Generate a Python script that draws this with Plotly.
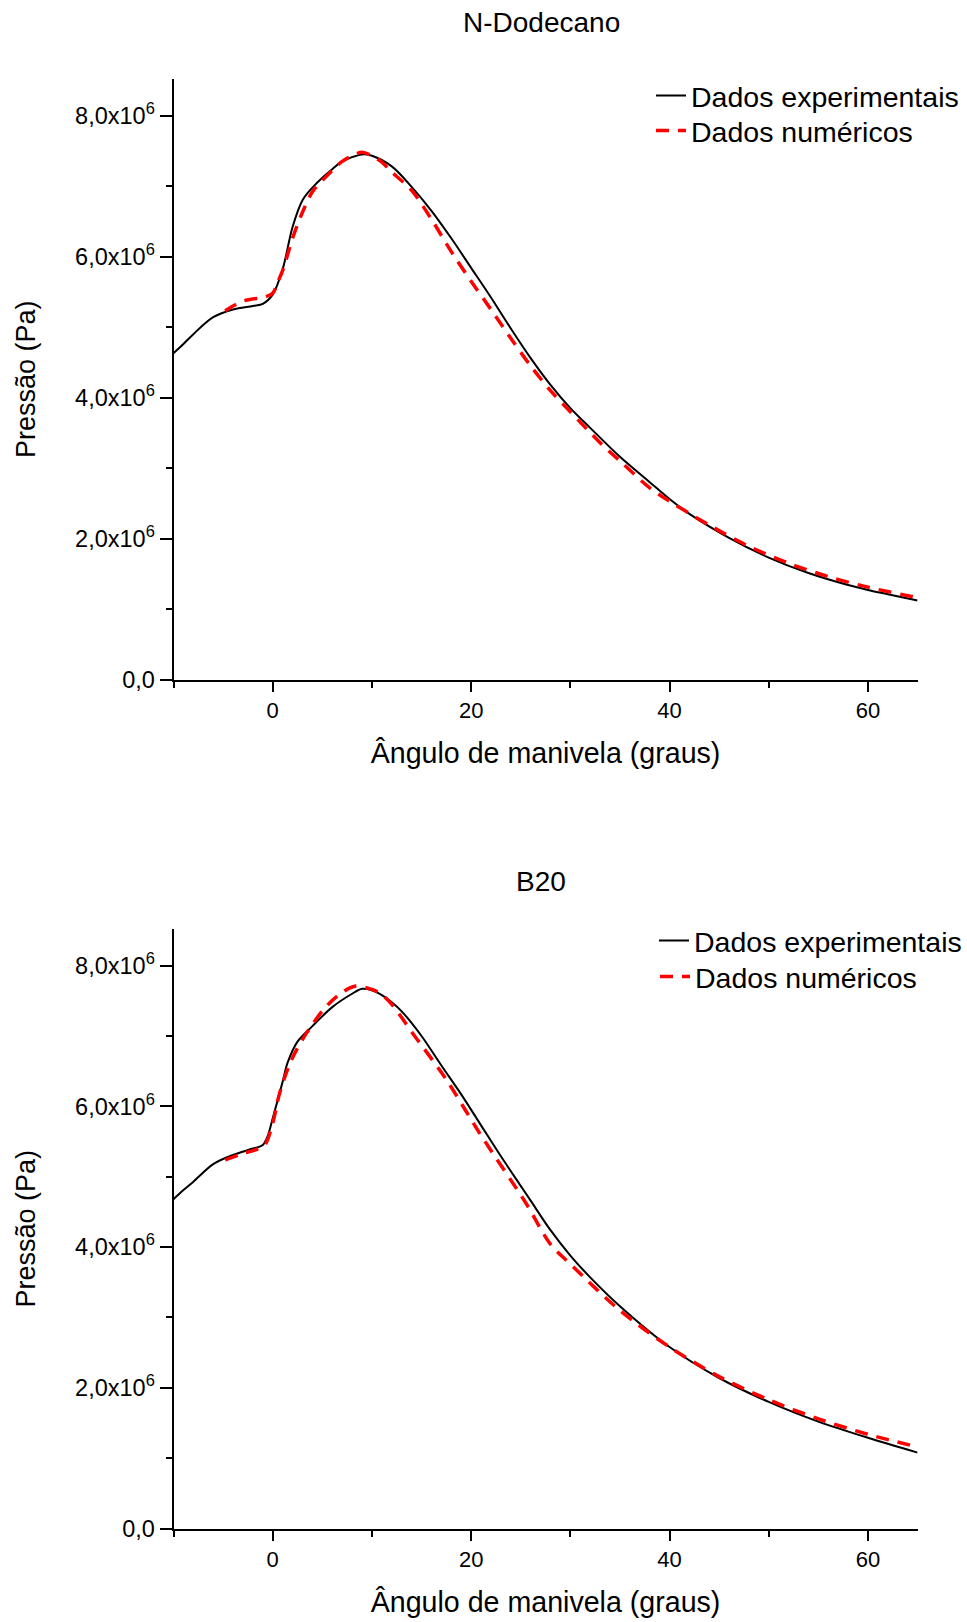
import plotly.graph_objects as go

# ---- N-Dodecano: pressure (x10^6 Pa) vs crank angle (degrees) ----
dod_exp_angle = [-10, -9, -8, -6, -4, -2, -1, 0, 1, 2, 3, 4, 5, 6, 7, 9, 10, 12, 14, 16,
                 18, 20, 22, 24, 26, 28, 30, 32, 35, 38, 40, 42, 46, 50, 54, 58, 60, 62, 65]
dod_exp_p = [4.63, 4.76, 4.90, 5.14, 5.25, 5.30, 5.33, 5.46, 5.82, 6.42, 6.80, 6.98, 7.12, 7.24,
             7.35, 7.45, 7.43, 7.28, 6.99, 6.65, 6.26, 5.84, 5.42, 4.98, 4.56, 4.18, 3.85, 3.57,
             3.16, 2.80, 2.56, 2.35, 2.01, 1.73, 1.51, 1.34, 1.27, 1.21, 1.12]

dod_num_angle = [-4.8, -4, -3, -2, -1, 0, 0.5, 1, 2, 3, 4, 5, 6, 7, 8, 9, 10, 11, 12, 14, 16,
                 18, 20, 22, 24, 26, 28, 30, 33, 35, 38, 40, 44, 48, 52, 56, 60, 65]
dod_num_p = [5.23, 5.30, 5.37, 5.40, 5.42, 5.48, 5.64, 5.80, 6.26, 6.63, 6.92, 7.08, 7.22, 7.35,
             7.43, 7.48, 7.43, 7.34, 7.20, 6.94, 6.53, 6.07, 5.65, 5.25, 4.84, 4.45, 4.10, 3.80,
             3.36, 3.10, 2.72, 2.53, 2.19, 1.89, 1.65, 1.46, 1.31, 1.16]

# ---- B20 ----
b20_exp_angle = [-10, -9, -8, -6, -4, -2, -1, -0.5, 0, 1, 1.5, 2.5, 4, 6, 8, 9, 10, 11, 12, 13,
                 15, 17, 19, 21, 23, 25, 26, 28, 30, 32, 35, 40, 45, 50, 55, 60, 65]
b20_exp_p = [4.68, 4.81, 4.93, 5.18, 5.31, 5.40, 5.45, 5.58, 5.83, 6.35, 6.62, 6.92, 7.14, 7.41,
             7.60, 7.67, 7.65, 7.58, 7.48, 7.35, 7.00, 6.58, 6.17, 5.73, 5.29, 4.87, 4.66, 4.24,
             3.88, 3.57, 3.16, 2.58, 2.14, 1.80, 1.52, 1.29, 1.08]

b20_num_angle = [-4.8, -3, -1.6, -0.8, 0, 0.7, 1.9, 3.4, 5.4, 7, 8.4, 10, 10.8, 12, 14.1, 17.5,
                 20.85, 25.5, 28, 30, 35, 40, 45, 50, 55, 60, 65]
b20_num_p = [5.24, 5.33, 5.39, 5.45, 5.76, 6.19, 6.66, 7.04, 7.42, 7.62, 7.71, 7.66, 7.61, 7.45,
             7.04, 6.38, 5.62, 4.63, 4.04, 3.76, 3.10, 2.58, 2.16, 1.83, 1.56, 1.34, 1.16]

panel_titles = ["N-Dodecano", "B20"]
series_names = ["Dados experimentais", "Dados numéricos"]
x_title = "Ângulo de manivela (graus)"
y_title = "Pressão (Pa)"
y_tickvals = [0, 2e6, 4e6, 6e6, 8e6]
y_ticktext = ["0,0", "2,0x10<sup>6</sup>", "4,0x10<sup>6</sup>", "6,0x10<sup>6</sup>", "8,0x10<sup>6</sup>"]
x_tickvals = [0, 20, 40, 60]
x_ticktext = ["0", "20", "40", "60"]

W, H = 967, 1622
FONT = "Liberation Sans, Arial, sans-serif"

fig = go.Figure()

# one legend per entry so each row can be placed on its own
panels = [
    (dod_exp_angle, dod_exp_p, dod_num_angle, dod_num_p, "x", "y", "legend", "legend2"),
    (b20_exp_angle, b20_exp_p, b20_num_angle, b20_num_p, "x2", "y2", "legend3", "legend4"),
]
for ea, ep, na, npv, xa, ya, lg_exp, lg_num in panels:
    fig.add_trace(go.Scatter(
        x=ea, y=[v * 1e6 for v in ep], mode="lines", name=series_names[0],
        line=dict(color="black", width=2, shape="spline", smoothing=0.9),
        xaxis=xa, yaxis=ya, legend=lg_exp, showlegend=True))
    fig.add_trace(go.Scatter(
        x=na, y=[v * 1e6 for v in npv], mode="lines", name=series_names[1],
        line=dict(color="#ff0000", width=3.5, dash="13px,9px", shape="spline", smoothing=0.9),
        xaxis=xa, yaxis=ya, legend=lg_num, showlegend=True))

x_dom = [173.7 / W, 918.5 / W]
y_doms = [[1 - 679.5 / H, 1 - 79 / H], [1 - 1528.6 / H, 1 - 929 / H]]

def xaxis_cfg(anchor):
    return dict(
        domain=x_dom, anchor=anchor, range=[-10, 65], showgrid=False, zeroline=False,
        showline=True, linecolor="black", linewidth=2,
        tickmode="array", tickvals=x_tickvals, ticktext=x_ticktext,
        ticks="outside", ticklen=10, tickwidth=2, tickcolor="black",
        minor=dict(ticks="outside", ticklen=6, tickwidth=2, tickcolor="black",
                   tickmode="array", tickvals=[-10, 10, 30, 50]),
        tickfont=dict(family=FONT, size=22, color="black"),
        title=dict(text=x_title, font=dict(family=FONT, size=28.6, color="black"), standoff=21),
        automargin=False,
    )

def yaxis_cfg(anchor, dom):
    return dict(
        domain=dom, anchor=anchor, range=[0, 8.52e6], showgrid=False, zeroline=False,
        showline=True, linecolor="black", linewidth=2,
        tickmode="array", tickvals=y_tickvals, ticktext=y_ticktext,
        ticks="outside", ticklen=12, tickwidth=2, tickcolor="black",
        minor=dict(ticks="outside", ticklen=6, tickwidth=2, tickcolor="black",
                   tickmode="array", tickvals=[1e6, 3e6, 5e6, 7e6]),
        tickfont=dict(family=FONT, size=23.5, color="black"),
        ticklabelstandoff=0,
        title=dict(text=y_title, font=dict(family=FONT, size=27, color="black"), standoff=32),
        automargin=False,
    )

def legend_at(px_x, px_y):
    return dict(
        x=px_x / W, y=1 - px_y / H, xanchor="left", yanchor="middle",
        bgcolor="rgba(0,0,0,0)", borderwidth=0,
        font=dict(family=FONT, size=28.5, color="black"),
    )

fig.update_layout(
    width=W, height=H, margin=dict(l=0, r=0, t=0, b=0),
    paper_bgcolor="white", plot_bgcolor="white", showlegend=True,
    xaxis=xaxis_cfg("y"), yaxis=yaxis_cfg("x", y_doms[0]),
    xaxis2=xaxis_cfg("y2"), yaxis2=yaxis_cfg("x2", y_doms[1]),
    legend=legend_at(651, 96),
    legend2=legend_at(651, 131),
    legend3=legend_at(655, 941),
    legend4=legend_at(655, 977),
    annotations=[
        dict(text=panel_titles[0], x=542 / W, y=1 - 22.7 / H, xref="paper", yref="paper",
             showarrow=False, font=dict(family=FONT, size=28, color="black"),
             xanchor="center", yanchor="middle"),
        dict(text=panel_titles[1], x=542 / W, y=1 - 881 / H, xref="paper", yref="paper",
             showarrow=False, font=dict(family=FONT, size=28, color="black"),
             xanchor="center", yanchor="middle"),
    ],
)

fig.write_html("out.html")
